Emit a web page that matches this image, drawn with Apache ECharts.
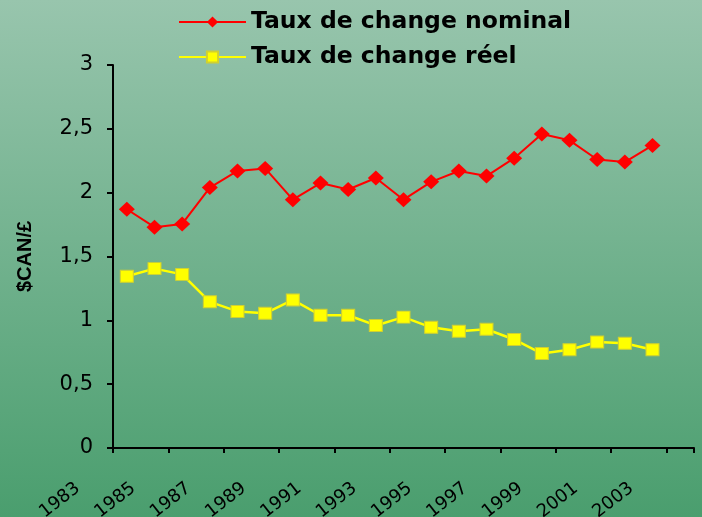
<!DOCTYPE html>
<html>
<head>
<meta charset="utf-8">
<script src="https://cdn.jsdelivr.net/npm/echarts@6/dist/echarts.min.js"></script>
<style>
  html, body { margin: 0; padding: 0; }
  #chart { width: 702px; height: 517px; }
</style>
</head>
<body>
<div id="chart"></div>
<script>
// années (la dernière catégorie, 2003, reste vide)
const years = ['1983','1984','1985','1986','1987','1988','1989','1990','1991','1992',
  '1993','1994','1995','1996','1997','1998','1999','2000','2001','2002','2003']
const nominal = [1.87, 1.73, 1.755, 2.04, 2.17, 2.19, 1.945, 2.075, 2.025, 2.115,
  1.945, 2.085, 2.17, 2.13, 2.27, 2.46, 2.41, 2.26, 2.24, 2.37, null]
const reel = [1.345, 1.405, 1.36, 1.145, 1.07, 1.055, 1.16, 1.04, 1.04, 0.96,
  1.025, 0.945, 0.915, 0.93, 0.85, 0.74, 0.77, 0.83, 0.82, 0.77, null]
const yTicks = [0, 0.5, 1, 1.5, 2, 2.5, 3]

const wide = 'DejaVu Sans, sans-serif'
const narrow = 'Liberation Sans, Arial, sans-serif'
let myChart = echarts.init(document.getElementById('chart'))
myChart.setOption({
  animation: false,
  backgroundColor: new echarts.graphic.LinearGradient(0, 0, 0, 1, [
    { offset: 0, color: '#98c5ad' },
    { offset: 1, color: '#4a9e6e' }
  ]),
  legend: {
    orient: 'vertical',
    left: 178,
    top: 10,
    padding: 0,
    itemWidth: 67,
    itemHeight: 14,
    itemGap: 11,
    textStyle: { fontFamily: wide, fontSize: 23.5, fontWeight: 'bold', color: '#000' },
    data: ['Taux de change nominal', 'Taux de change réel']
  },
  grid: { left: 113, right: 8, top: 65, bottom: 69, containLabel: false, outerBoundsMode: 'none' },
  xAxis: {
    type: 'category',
    data: years,
    boundaryGap: true,
    axisLine: { lineStyle: { color: '#000', width: 2 } },
    axisTick: { show: true, length: 5, lineStyle: { color: '#000', width: 2 } },
    axisLabel: {
      interval: 1,
      rotate: 38,
      margin: 0,
      padding: [0, 62, 0, 0],
      fontFamily: wide,
      fontSize: 18,
      color: '#000'
    }
  },
  yAxis: {
    type: 'value',
    min: yTicks[0],
    max: yTicks[yTicks.length - 1],
    interval: 0.5,
    name: '$CAN/£',
    nameLocation: 'middle',
    nameGap: 78,
    nameTextStyle: { fontFamily: narrow, fontSize: 20, fontWeight: 'bold', color: '#000' },
    splitLine: { show: false },
    axisLine: { show: true, lineStyle: { color: '#000', width: 2 } },
    axisTick: { show: true, length: 6, lineStyle: { color: '#000', width: 2 } },
    axisLabel: {
      margin: 20,
      fontFamily: wide,
      fontSize: 21,
      color: '#000',
      formatter: v => String(v).replace('.', ',')
    }
  },
  series: [
    {
      name: 'Taux de change nominal',
      type: 'line',
      data: nominal,
      symbol: 'diamond',
      symbolSize: [16, 15],
      lineStyle: { color: '#ff0000', width: 2 },
      itemStyle: { color: '#ff0000' }
    },
    {
      name: 'Taux de change réel',
      type: 'line',
      data: reel,
      symbol: 'rect',
      symbolSize: [13, 12],
      lineStyle: { color: '#ffff00', width: 2.5 },
      itemStyle: { color: '#ffff00', borderColor: '#d0d030', borderWidth: 1 }
    }
  ]
})
</script>
</body>
</html>
